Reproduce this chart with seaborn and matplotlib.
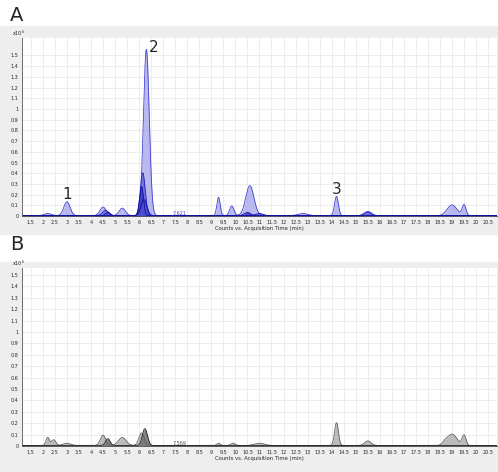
import numpy as np
import pandas as pd
import matplotlib
matplotlib.use("Agg")
import matplotlib.pyplot as plt
import seaborn as sns
from matplotlib.patches import Rectangle

sns.set_style("whitegrid")
plt.rcParams['font.family'] = ['DejaVu Sans']

# peak tables: centers (min), heights (x10^6), widths (min)
a1_c = [2.2, 3.0, 4.5, 5.3, 6.3, 9.3, 9.85, 10.6, 12.8, 14.2, 15.5, 19.0, 19.5]
a1_h = [0.02, 0.13, 0.08, 0.07, 1.55, 0.17, 0.09, 0.28, 0.02, 0.18, 0.04, 0.10, 0.10]
a1_w = [0.15, 0.13, 0.13, 0.13, 0.12, 0.07, 0.09, 0.17, 0.2, 0.08, 0.15, 0.2, 0.08]
a2_c = [4.6, 6.15, 15.5]
a2_h = [0.05, 0.40, 0.03]
a2_w = [0.13, 0.1, 0.13]
a3_c = [6.1, 10.5]
a3_h = [0.27, 0.03]
a3_w = [0.08, 0.13]
a4_c = [6.2, 11.0, 4.7]
a4_h = [0.15, 0.02, 0.03]
a4_w = [0.12, 0.15, 0.1]

b1_c = [2.2, 2.45, 3.0, 4.5, 5.3, 6.1, 9.3, 9.9, 11.0, 14.2, 15.5, 18.7, 19.0, 19.5]
b1_h = [0.07, 0.05, 0.02, 0.09, 0.07, 0.11, 0.02, 0.02, 0.02, 0.20, 0.04, 0.02, 0.10, 0.09]
b1_w = [0.07, 0.09, 0.15, 0.11, 0.16, 0.11, 0.07, 0.09, 0.2, 0.08, 0.13, 0.1, 0.2, 0.08]
b2_c = [4.7, 6.2, 6.3]
b2_h = [0.06, 0.10, 0.07]
b2_w = [0.09, 0.09, 0.09]

x_ticks = [1.5 + 0.5 * i for i in range(39)]
y_ticks = [0.1 * i for i in range(16)]

t = np.linspace(1.13, 20.87, 3000)

def trace(c, h, w):
    y = np.zeros_like(t)
    for ci, hi, wi in zip(c, h, w):
        y += hi * np.exp(-0.5 * ((t - ci) / wi) ** 2)
    return y

fig = plt.figure(figsize=(4.98, 4.72), dpi=100)
fig.patches.append(Rectangle((0, 0.505), 1, 0.44, transform=fig.transFigure, color="#eeeeee", zorder=-5))
fig.patches.append(Rectangle((0, 0.0), 1, 0.445, transform=fig.transFigure, color="#eeeeee", zorder=-5))
fig.text(0.02, 0.955, "A", fontsize=14)
fig.text(0.02, 0.47, "B", fontsize=14)

def setup(ax, ymax):
    ax.set_xlim(1.13, 20.87)
    ax.set_ylim(0, ymax)
    ax.set_xticks(x_ticks)
    ax.set_xticklabels([("%g" % v) for v in x_ticks], fontsize=3.5)
    ax.set_yticks(y_ticks)
    ax.set_yticklabels([("%g" % round(v, 1)) for v in y_ticks], fontsize=3.5)
    ax.tick_params(length=1.5, pad=1)
    ax.grid(color="#e6e6e6", linewidth=0.5)
    for s in ax.spines.values():
        s.set_visible(False)
    ax.spines['left'].set_visible(True)
    ax.spines['bottom'].set_visible(True)
    ax.spines['left'].set_color("#555555")
    ax.spines['bottom'].set_color("#555555")
    ax.spines['left'].set_linewidth(0.6)
    ax.spines['bottom'].set_linewidth(0.6)
    ax.set_xlabel("Counts vs. Acquisition Time (min)", fontsize=3.8, labelpad=1)
    ax.set_ylabel("")
    ax.text(-0.02, 1.0, "x10$^6$", transform=ax.transAxes, fontsize=3.5, ha="left", va="bottom")

axA = fig.add_axes([0.044, 0.542, 0.954, 0.377])
for (c, h, w), fc, ec in [((a1_c, a1_h, a1_w), "#a8a8ec", "#4040d0"),
                          ((a2_c, a2_h, a2_w), "#6060d8", "#2020c0"),
                          ((a3_c, a3_h, a3_w), "#3030c0", "#1010a0"),
                          ((a4_c, a4_h, a4_w), "#5050d0", "#1010a0")]:
    y = trace(c, h, w) + 0.005
    df = pd.DataFrame({"t": t, "y": y})
    axA.fill_between(t, 0, y, color=fc, alpha=0.8, linewidth=0)
    sns.lineplot(data=df, x="t", y="y", ax=axA, color=ec, linewidth=0.6)
setup(axA, 1.66)
axA.text(3.0, 0.16, "1", fontsize=11, ha="center")
axA.text(6.6, 1.53, "2", fontsize=11, ha="center")
axA.text(14.2, 0.21, "3", fontsize=11, ha="center")
axA.text(7.7, 0.012, "7.621", fontsize=3.5, color="#4040d0", ha="center")

axB = fig.add_axes([0.044, 0.055, 0.954, 0.377])
for (c, h, w), fc, ec in [((b1_c, b1_h, b1_w), "#b0b0b0", "#606060"),
                          ((b2_c, b2_h, b2_w), "#707070", "#202020")]:
    y = trace(c, h, w) + 0.005
    df = pd.DataFrame({"t": t, "y": y})
    axB.fill_between(t, 0, y, color=fc, alpha=0.85, linewidth=0)
    sns.lineplot(data=df, x="t", y="y", ax=axB, color=ec, linewidth=0.6)
setup(axB, 1.56)
axB.text(7.7, 0.012, "7.569", fontsize=3.5, color="#505050", ha="center")

fig.savefig("out.png", dpi=100)
